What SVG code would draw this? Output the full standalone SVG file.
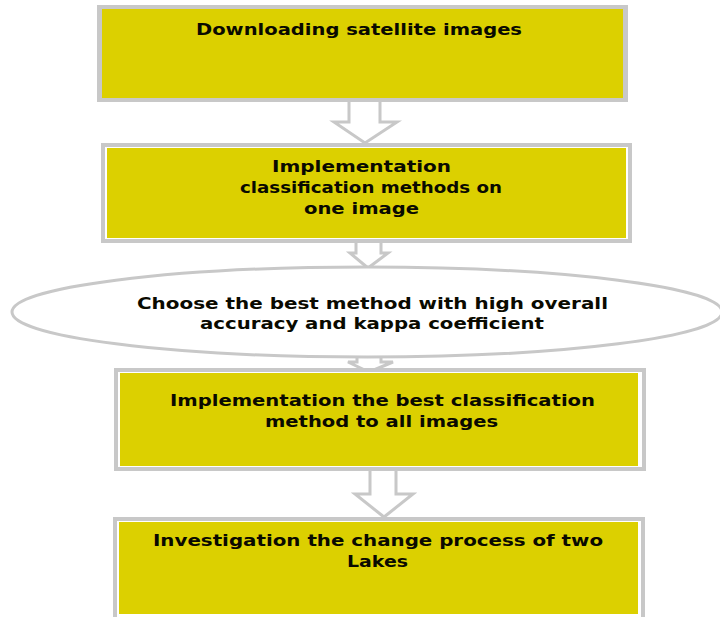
<svg xmlns="http://www.w3.org/2000/svg" width="720" height="617" viewBox="0 0 720 617">
<style>
.bo{fill:#c8c8c8}
.bw{fill:#ffffff}
.by{fill:#dcd000}
.t{font-family:"DejaVu Sans","Liberation Sans",sans-serif;font-weight:bold;font-size:16px;fill:#0a0a00;text-anchor:start}
.ar{fill:#ffffff;stroke:#c8c8c8;stroke-width:3;stroke-linejoin:miter}
</style>
<rect width="720" height="617" fill="#ffffff"/>
<g id="connectors">
<polyline class="ar" points="349,100 349,122 334,122 365,143 397,122 380,122 380,100"/>
<polyline class="ar" points="356,242 356,253 350,253 368,268 388,253 381,253 381,242"/>
<polyline class="ar" points="357,356 357,362 348,362 369,372 393,362 381,362 381,356"/>
<polyline class="ar" points="370,471 370,494 355,494 384,517 413,494 396,494 396,471"/>
<rect x="370" y="613" width="33" height="4" fill="#c8c8c8"/>
</g>
<g id="n1">
<rect class="bo" x="97" y="5" width="531" height="97"/>
<rect class="by" x="102" y="9" width="521" height="89"/>
<text class="t" x="196" y="35" textLength="326" lengthAdjust="spacingAndGlyphs">Downloading satellite images</text>
</g>
<g id="n2">
<rect class="bo" x="101" y="143" width="531" height="100"/>
<rect class="bw" x="105" y="147" width="523" height="92"/>
<rect class="by" x="107" y="148" width="519" height="90"/>
<text class="t" x="272" y="172" textLength="179" lengthAdjust="spacingAndGlyphs">Implementation</text>
<text class="t" x="240" y="193" textLength="262" lengthAdjust="spacingAndGlyphs">classification methods on</text>
<text class="t" x="304" y="214" textLength="115" lengthAdjust="spacingAndGlyphs">one image</text>
</g>
<g id="n3">
<ellipse cx="367" cy="312" rx="355" ry="45" fill="#ffffff" stroke="#c8c8c8" stroke-width="3"/>
<text class="t" x="137" y="309" textLength="471" lengthAdjust="spacingAndGlyphs">Choose the best method with high overall</text>
<text class="t" x="200" y="329" textLength="344" lengthAdjust="spacingAndGlyphs">accuracy and kappa coefficient</text>
</g>
<g id="n4">
<rect class="bo" x="114" y="368" width="532" height="103"/>
<rect class="bw" x="118" y="372" width="524" height="95"/>
<rect class="by" x="120" y="373" width="518" height="93"/>
<text class="t" x="170" y="406" textLength="425" lengthAdjust="spacingAndGlyphs">Implementation the best classification</text>
<text class="t" x="265" y="427" textLength="233" lengthAdjust="spacingAndGlyphs">method to all images</text>
</g>
<g id="n5">
<rect class="bo" x="113" y="517" width="532" height="105"/>
<rect class="bw" x="117" y="521" width="524" height="97"/>
<rect class="by" x="119" y="522" width="519" height="92"/>
<text class="t" x="153" y="546" textLength="450" lengthAdjust="spacingAndGlyphs">Investigation the change process of two</text>
<text class="t" x="347" y="567" textLength="61" lengthAdjust="spacingAndGlyphs">Lakes</text>
</g>
</svg>
